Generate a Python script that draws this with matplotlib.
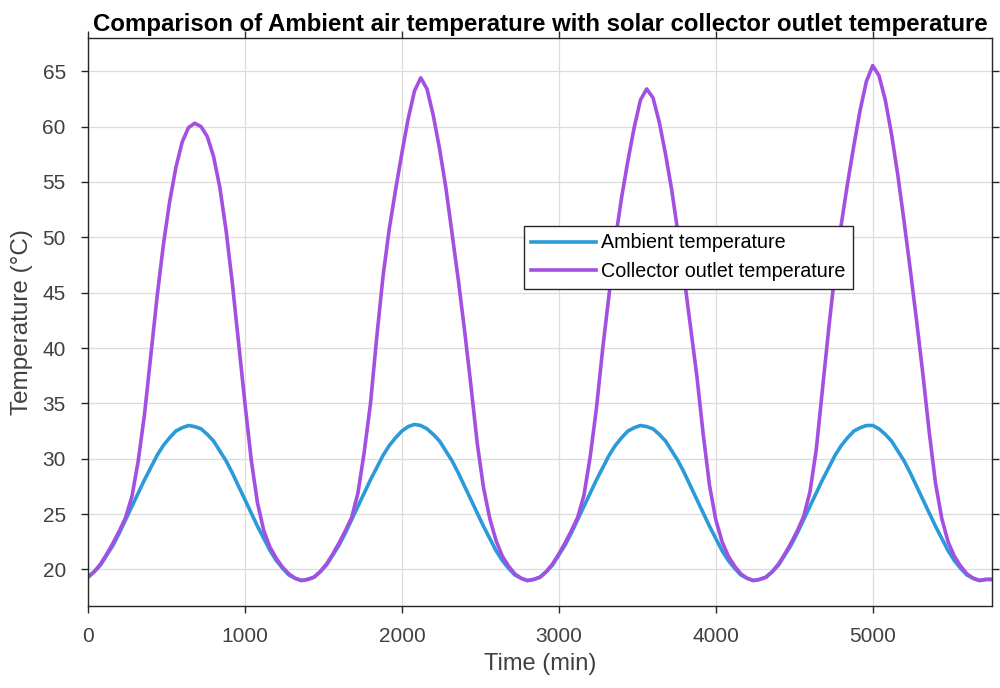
import matplotlib
matplotlib.use('Agg')
import matplotlib.pyplot as plt
import numpy as np

plt.rcParams['font.family'] = ['Liberation Sans', 'DejaVu Sans']

# time axis, minutes (4 days, every 40 min)
time_min = np.arange(0, 5761, 40)

ambient = [
    # day 1
    19.3, 19.8, 20.4, 21.3, 22.2, 23.3, 24.5, 25.7, 26.9, 28.1, 29.2, 30.3,
    31.2, 31.9, 32.5, 32.8, 33.0, 32.9, 32.7, 32.2, 31.6, 30.7, 29.8, 28.7,
    27.5, 26.3, 25.1, 23.9, 22.8, 21.7, 20.8, 20.1, 19.5, 19.2, 19.0, 19.1,
    # day 2
    19.3, 19.8, 20.4, 21.3, 22.2, 23.3, 24.5, 25.7, 26.9, 28.1, 29.2, 30.3,
    31.2, 31.9, 32.5, 32.9, 33.1, 33.0, 32.7, 32.2, 31.6, 30.7, 29.8, 28.7,
    27.5, 26.3, 25.1, 23.9, 22.8, 21.7, 20.8, 20.1, 19.5, 19.2, 19.0, 19.1,
    # day 3
    19.3, 19.8, 20.4, 21.3, 22.2, 23.3, 24.5, 25.7, 26.9, 28.1, 29.2, 30.3,
    31.2, 31.9, 32.5, 32.8, 33.0, 32.9, 32.7, 32.2, 31.6, 30.7, 29.8, 28.7,
    27.5, 26.3, 25.1, 23.9, 22.8, 21.7, 20.8, 20.1, 19.5, 19.2, 19.0, 19.1,
    # day 4
    19.3, 19.8, 20.4, 21.3, 22.2, 23.3, 24.5, 25.7, 26.9, 28.1, 29.2, 30.3,
    31.2, 31.9, 32.5, 32.8, 33.0, 33.0, 32.7, 32.2, 31.6, 30.7, 29.8, 28.7,
    27.5, 26.3, 25.1, 23.9, 22.8, 21.7, 20.8, 20.1, 19.5, 19.2, 19.0, 19.1,
    19.1,
]

collector = [
    # day 1
    19.3, 19.8, 20.5, 21.4, 22.4, 23.5, 24.7, 26.6, 29.8, 34.0, 39.3, 44.6,
    49.3, 53.2, 56.3, 58.6, 59.9, 60.3, 60.0, 59.1, 57.3, 54.5, 50.6, 45.8,
    40.4, 35.0, 29.9, 26.0, 23.5, 22.0, 21.0, 20.2, 19.6, 19.2, 19.0, 19.1,
    # day 2
    19.3, 19.8, 20.5, 21.4, 22.4, 23.5, 24.7, 26.9, 30.6, 35.0, 41.0, 46.5,
    50.8, 54.3, 57.6, 60.7, 63.2, 64.4, 63.4, 61.0, 58.0, 54.5, 50.3, 46.1,
    41.5, 36.6, 31.4, 27.4, 24.6, 22.6, 21.2, 20.3, 19.6, 19.2, 19.0, 19.1,
    # day 3
    19.3, 19.8, 20.5, 21.4, 22.4, 23.5, 24.7, 26.7, 30.2, 34.6, 40.0, 44.8,
    49.8, 53.6, 56.9, 59.9, 62.4, 63.4, 62.6, 60.4, 57.5, 54.2, 50.3, 46.2,
    41.8, 37.4, 32.2, 27.6, 24.5, 22.5, 21.2, 20.3, 19.6, 19.2, 19.0, 19.1,
    # day 4
    19.3, 19.8, 20.5, 21.4, 22.4, 23.5, 24.8, 27.0, 30.8, 36.3, 41.8, 46.9,
    51.2, 54.9, 58.3, 61.5, 64.1, 65.5, 64.6, 62.4, 59.3, 55.6, 51.4, 47.0,
    42.4, 37.6, 32.4, 27.8, 24.6, 22.5, 21.2, 20.3, 19.6, 19.2, 19.0, 19.1,
    19.1,
]

ax_color = '#262626'
txt_color = '#404040'

fig = plt.figure(figsize=(10, 6.88), dpi=100)
ax = fig.add_axes([0.088, 0.1192, 0.904, 0.8256])

ax.plot(time_min, ambient, color='#2b9ad8', linewidth=2.6, label='Ambient temperature')
ax.plot(time_min, collector, color='#a24fe2', linewidth=2.6, label='Collector outlet temperature')

ax.set_xlim(0, 5760)
ax.set_ylim(16.7, 68)
ax.set_xticks(np.arange(0, 5001, 1000))
ax.set_yticks(np.arange(20, 66, 5))

ax.grid(True, color='#dcdcdc', linewidth=0.9)
ax.set_axisbelow(True)
ax.tick_params(direction='out', length=5, width=1, color=ax_color, labelcolor=txt_color,
               labelsize=15, top=True, right=True, labeltop=False, labelright=False)
ax.tick_params(axis='x', pad=10)
ax.tick_params(axis='y', pad=11)
for s in ax.spines.values():
    s.set_color(ax_color)
    s.set_linewidth(1)

ax.set_title('Comparison of Ambient air temperature with solar collector outlet temperature',
             fontsize=17.3, fontweight='bold', color='black', pad=5)
ax.set_xlabel('Time (min)', fontsize=17, color=txt_color, labelpad=5)
ax.set_ylabel('Temperature (\u00b0C)', fontsize=17.5, color=txt_color, labelpad=7)

leg = ax.legend(loc='upper left', bbox_to_anchor=(0.482, 0.669), borderaxespad=0,
                fontsize=14.2, frameon=True, fancybox=False, framealpha=1,
                handlelength=3.3, handletextpad=0.25, borderpad=0.38, labelspacing=0.5)
leg.get_frame().set_edgecolor(ax_color)
leg.get_frame().set_linewidth(1)

fig.savefig('out.png', dpi=100)
